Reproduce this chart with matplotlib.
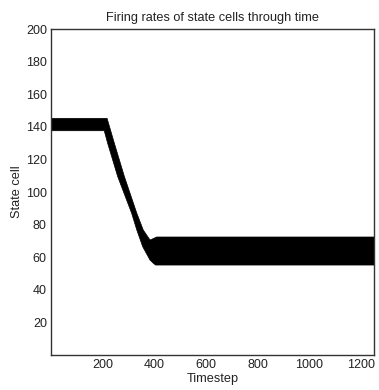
import matplotlib.pyplot as plt
import numpy as np

plt.rcParams['font.family'] = ['Liberation Sans', 'DejaVu Sans']

# upper and lower edges of the band of firing state cells
time_upper = [0, 217, 245, 284, 332, 357, 383, 390, 409, 1250]
cell_upper = [145.2, 145.2, 130, 109.5, 87, 76.7, 70.6, 71, 72.4, 72.4]
time_lower = [0, 206, 219, 258, 312, 332, 355, 383, 396, 405, 1250]
cell_lower = [137.6, 137.6, 130, 109.5, 87, 76.7, 66.4, 58.3, 56.3, 55.2, 55.2]

xticks = [200, 400, 600, 800, 1000, 1200]
yticks = [20, 40, 60, 80, 100, 120, 140, 160, 180, 200]

fig = plt.figure(figsize=(3.79, 3.90), dpi=100)
ax = fig.add_axes([0.1346, 0.0897, 0.8522, 0.8359])

poly_t = np.concatenate([time_upper, time_lower[::-1]])
poly_c = np.concatenate([cell_upper, cell_lower[::-1]])
ax.fill(poly_t, poly_c, color='black', lw=0.5)

ax.set_xlim(0, 1250)
ax.set_ylim(0, 200)
ax.set_xticks(xticks)
ax.set_yticks(yticks)
ax.tick_params(direction='in', length=0, labelsize=9, colors='#222222', pad=3)
for s in ax.spines.values():
    s.set_color('#333333')
    s.set_linewidth(1.0)

ax.set_title('Firing rates of state cells through time', fontsize=9.2, color='#222222', pad=6)
ax.set_xlabel('Timestep', fontsize=9.2, color='#222222', labelpad=1.5)
ax.set_ylabel('State cell', fontsize=9.2, color='#222222', labelpad=2)

fig.savefig('out.png', dpi=100)
